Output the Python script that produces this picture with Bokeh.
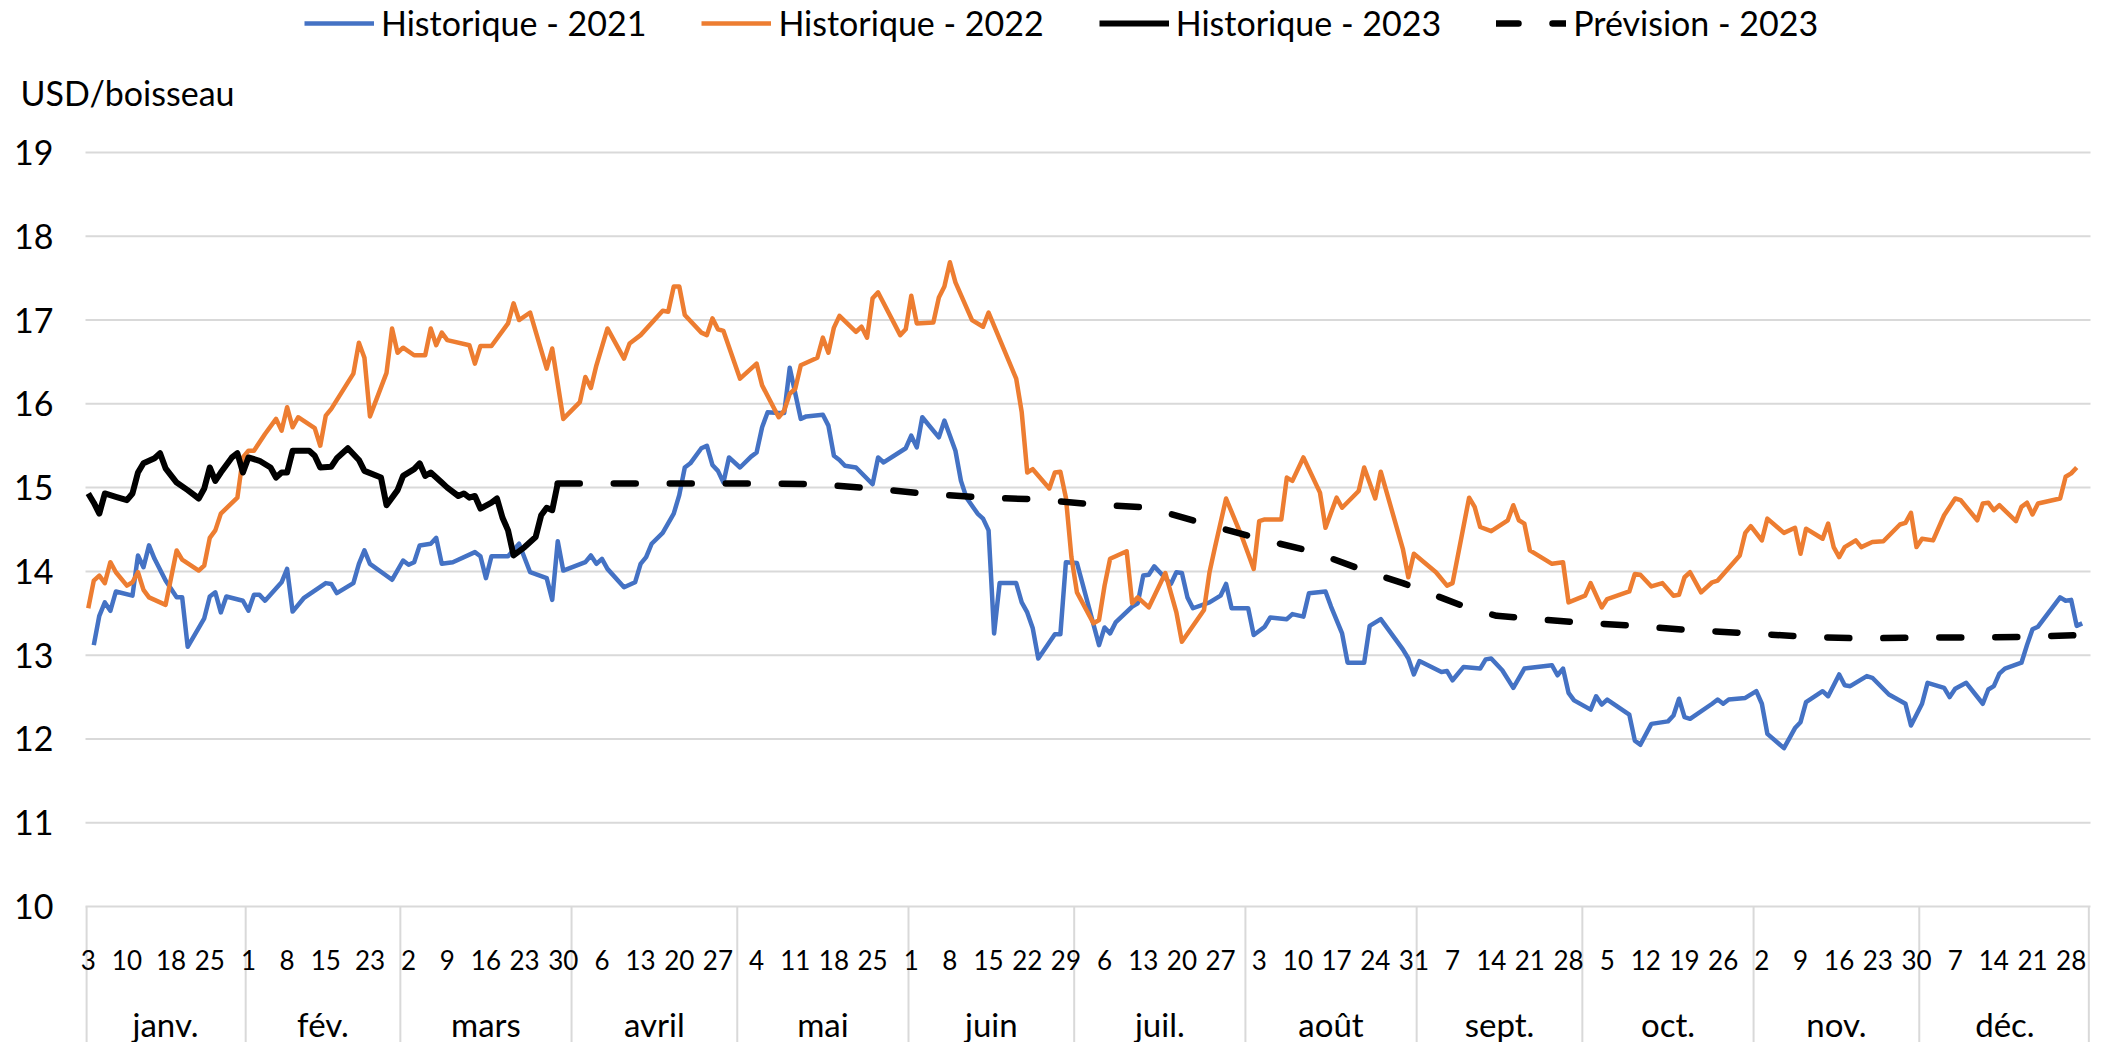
from bokeh.plotting import figure
from bokeh.models import Range1d, Legend, LegendItem
from bokeh.core.properties import value
from bokeh.embed import file_html
from bokeh.resources import INLINE

# ---------------- data ----------------
months = ["janv.", "fév.", "mars", "avril", "mai", "juin",
          "juil.", "août", "sept.", "oct.", "nov.", "déc."]
month_lengths = [31, 28, 31, 30, 31, 30, 31, 31, 30, 31, 30, 31]
week_days = [[3, 10, 18, 25], [1, 8, 15, 23], [2, 9, 16, 23, 30], [6, 13, 20, 27],
             [4, 11, 18, 25], [1, 8, 15, 22, 29], [6, 13, 20, 27], [3, 10, 17, 24, 31],
             [7, 14, 21, 28], [5, 12, 19, 26], [2, 9, 16, 23, 30], [7, 14, 21, 28]]
y_ticks = [10, 11, 12, 13, 14, 15, 16, 17, 18, 19]

# day of year / USD per bushel
day_2021 = [4, 5, 6, 7, 8, 11, 12, 13, 14, 15, 17, 19, 20, 21, 24, 25, 26, 27, 28, 31,
            32, 33, 34, 35, 38, 39, 40, 42, 46, 47, 48, 51, 52, 53, 54, 58, 60, 61, 62, 63,
            65, 66, 67, 69, 73, 74, 75, 76, 79, 81, 83, 86, 87, 88, 89, 93, 94, 95, 96, 97,
            100, 102, 103, 104, 105, 107, 109, 110, 111, 112, 114, 115, 116, 117, 118, 119,
            121, 123, 124, 125, 126, 128, 129, 130, 132, 133, 136, 137, 138, 139, 140, 142,
            145, 146, 147, 151, 152, 153, 154, 157, 158, 160, 161, 162, 164, 165, 166, 167,
            168, 171, 172, 173, 174, 175, 178, 179, 180, 182, 186, 187, 188, 189, 192, 193,
            194, 195, 196, 197, 199, 200, 201, 202, 203, 206, 208, 209, 210, 213, 214, 216,
            217, 220, 221, 223, 224, 227, 228, 230, 231, 234, 235, 237, 241, 242, 243, 244,
            248, 249, 250, 252, 255, 256, 257, 259, 261, 263, 268, 269, 270, 271, 272, 275,
            276, 277, 278, 282, 283, 284, 286, 289, 290, 291, 292, 293, 297, 298, 299, 300,
            303, 305, 306, 307, 310, 312, 313, 314, 317, 318, 320, 321, 322, 325, 326, 329,
            332, 333, 335, 336, 339, 340, 341, 343, 346, 347, 348, 349, 350, 353, 354, 355,
            356, 360, 361, 362, 363, 364]
price_2021 = [13.12, 13.47, 13.63, 13.53, 13.76, 13.71, 14.19, 14.05, 14.31, 14.15, 13.89, 13.69,
              13.69, 13.10, 13.44, 13.70, 13.75, 13.51, 13.70, 13.65, 13.53, 13.72, 13.72, 13.65,
              13.87, 14.03, 13.52, 13.68, 13.86, 13.85, 13.74, 13.86, 14.09, 14.25, 14.09, 13.90,
              14.13, 14.08, 14.11, 14.31, 14.33, 14.40, 14.09, 14.11, 14.23, 14.18, 13.92, 14.18,
              14.18, 14.33, 13.99, 13.92, 13.66, 14.36, 14.01, 14.11, 14.19, 14.09, 14.15, 14.03,
              13.81, 13.87, 14.09, 14.17, 14.33, 14.46, 14.69, 14.91, 15.24, 15.29, 15.47, 15.50,
              15.27, 15.20, 15.06, 15.36, 15.24, 15.37, 15.42, 15.72, 15.90, 15.89, 15.89, 16.43,
              15.82, 15.85, 15.87, 15.74, 15.38, 15.33, 15.26, 15.24, 15.04, 15.36, 15.30, 15.47,
              15.62, 15.48, 15.84, 15.60, 15.80, 15.44, 15.08, 14.88, 14.69, 14.63, 14.49, 13.26,
              13.86, 13.86, 13.63, 13.51, 13.32, 12.96, 13.25, 13.25, 14.11, 14.10, 13.12, 13.33,
              13.26, 13.39, 13.58, 13.62, 13.95, 13.96, 14.06, 13.99, 13.85, 13.99, 13.98, 13.69,
              13.56, 13.63, 13.71, 13.85, 13.56, 13.56, 13.24, 13.34, 13.45, 13.43, 13.49, 13.46,
              13.74, 13.76, 13.58, 13.26, 12.91, 12.91, 13.35, 13.43, 13.07, 12.96, 12.77, 12.93,
              12.80, 12.81, 12.70, 12.86, 12.84, 12.95, 12.96, 12.82, 12.61, 12.84, 12.88, 12.76,
              12.84, 12.55, 12.46, 12.35, 12.51, 12.41, 12.47, 12.29, 11.98, 11.93, 12.18, 12.21,
              12.28, 12.48, 12.26, 12.24, 12.42, 12.47, 12.42, 12.47, 12.49, 12.57, 12.42, 12.06,
              11.89, 12.13, 12.20, 12.44, 12.57, 12.51, 12.77, 12.64, 12.63, 12.75, 12.73, 12.53,
              12.42, 12.16, 12.42, 12.67, 12.61, 12.50, 12.60, 12.67, 12.42, 12.59, 12.63, 12.78,
              12.84, 12.91, 13.12, 13.31, 13.34, 13.69, 13.65, 13.66, 13.35, 13.38]

day_2022 = [3, 4, 5, 6, 7, 8, 10, 11, 12, 13, 14, 17, 19, 20, 23, 24, 25, 26, 27, 30,
            31, 32, 33, 35, 37, 38, 39, 40, 41, 44, 45, 46, 47, 51, 52, 53, 54, 57, 58, 59,
            60, 62, 64, 65, 66, 67, 68, 72, 73, 74, 76, 79, 80, 81, 83, 85, 86, 87, 89, 92,
            93, 94, 95, 97, 100, 101, 103, 107, 108, 109, 110, 111, 114, 115, 116, 117, 118,
            121, 124, 125, 128, 129, 130, 131, 132, 135, 136, 137, 138, 139, 142, 143, 144,
            145, 146, 150, 151, 152, 153, 156, 157, 158, 159, 160, 163, 165, 166, 171, 172,
            173, 174, 177, 178, 179, 180, 181, 182, 185, 186, 187, 188, 191, 192, 193, 195,
            198, 200, 201, 205, 206, 207, 209, 212, 213, 214, 215, 216, 219, 220, 221, 223,
            226, 227, 229, 230, 233, 234, 236, 237, 241, 242, 243, 247, 249, 250, 253, 254,
            255, 257, 260, 261, 262, 263, 264, 268, 270, 271, 274, 275, 277, 278, 282, 283,
            284, 286, 288, 290, 291, 292, 293, 295, 297, 298, 302, 303, 304, 306, 307, 310,
            312, 313, 314, 317, 318, 319, 320, 321, 323, 324, 326, 328, 331, 332, 333, 334,
            335, 337, 339, 341, 342, 345, 346, 347, 348, 349, 352, 353, 354, 355, 356, 360,
            361, 362, 363]
price_2022 = [13.56, 13.89, 13.95, 13.86, 14.11, 13.99, 13.83, 13.87, 13.99, 13.78, 13.69, 13.60,
              14.25, 14.14, 14.01, 14.07, 14.40, 14.49, 14.69, 14.88, 15.36, 15.44, 15.44, 15.64,
              15.82, 15.68, 15.96, 15.72, 15.84, 15.71, 15.50, 15.86, 15.94, 16.36, 16.73, 16.55,
              15.85, 16.37, 16.90, 16.61, 16.67, 16.58, 16.58, 16.90, 16.70, 16.85, 16.76, 16.70,
              16.48, 16.69, 16.69, 16.96, 17.20, 17.00, 17.09, 16.64, 16.42, 16.66, 15.82, 16.02,
              16.32, 16.19, 16.46, 16.90, 16.54, 16.72, 16.82, 17.11, 17.10, 17.40, 17.40, 17.06,
              16.85, 16.82, 17.02, 16.89, 16.87, 16.30, 16.48, 16.22, 15.84, 15.92, 16.12, 16.18,
              16.46, 16.55, 16.79, 16.61, 16.91, 17.05, 16.86, 16.92, 16.79, 17.26, 17.33, 16.82,
              16.89, 17.29, 16.96, 16.97, 17.27, 17.40, 17.69, 17.45, 17.00, 16.92, 17.09, 16.30,
              15.90, 15.18, 15.22, 14.99, 15.18, 15.19, 14.88, 14.17, 13.75, 13.38, 13.42, 13.83,
              14.15, 14.24, 13.62, 13.69, 13.57, 13.98, 13.51, 13.16, 13.54, 13.99, 14.29, 14.87,
              14.39, 14.21, 14.03, 14.60, 14.62, 14.62, 15.12, 15.08, 15.36, 14.94, 14.52, 14.88,
              14.76, 14.96, 15.24, 14.87, 15.19, 14.27, 13.93, 14.21, 13.99, 13.83, 13.86, 14.88,
              14.77, 14.53, 14.48, 14.61, 14.79, 14.61, 14.57, 14.25, 14.09, 14.11, 13.63, 13.71,
              13.86, 13.57, 13.67, 13.76, 13.97, 13.96, 13.82, 13.86, 13.71, 13.72, 13.93, 13.99,
              13.75, 13.87, 13.89, 14.19, 14.46, 14.54, 14.37, 14.63, 14.46, 14.52, 14.21, 14.51,
              14.39, 14.57, 14.29, 14.17, 14.29, 14.37, 14.29, 14.35, 14.36, 14.56, 14.58, 14.70,
              14.29, 14.39, 14.37, 14.67, 14.87, 14.85, 14.61, 14.81, 14.82, 14.73, 14.79, 14.60,
              14.77, 14.82, 14.68, 14.81, 14.87, 15.13, 15.17, 15.24]

day_2023 = [3, 4, 5, 6, 8, 10, 11, 12, 13, 15, 16, 17, 19, 21, 23, 24, 25, 26, 27, 29,
            30, 31, 32, 34, 36, 37, 38, 39, 40, 43, 44, 45, 47, 48, 50, 52, 53, 56, 57, 59,
            60, 62, 63, 64, 65, 67, 68, 70, 71, 72, 73, 74, 76, 77, 78, 79, 80, 82, 84, 85,
            86, 87, 88]
price_2023 = [14.93, 14.82, 14.69, 14.93, 14.89, 14.85, 14.93, 15.18, 15.29, 15.35, 15.41, 15.23,
              15.06, 14.97, 14.87, 14.99, 15.24, 15.08, 15.18, 15.36, 15.41, 15.18, 15.36, 15.32,
              15.24, 15.12, 15.18, 15.18, 15.44, 15.44, 15.38, 15.24, 15.25, 15.35, 15.47, 15.33,
              15.20, 15.12, 14.79, 14.97, 15.14, 15.22, 15.29, 15.14, 15.18, 15.06, 15.00, 14.90,
              14.93, 14.88, 14.90, 14.75, 14.82, 14.87, 14.64, 14.49, 14.19, 14.29, 14.41, 14.67,
              14.76, 14.73, 15.05]

day_forecast = [88, 114, 125, 135, 145, 154, 165, 175, 185, 195, 205, 215, 225, 234, 241,
                253, 258, 273, 283, 293, 304, 314, 324, 334, 344, 354, 364]
price_forecast = [15.05, 15.05, 15.05, 15.04, 14.99, 14.93, 14.88, 14.86, 14.80, 14.76, 14.57,
                  14.39, 14.23, 14.01, 13.86, 13.56, 13.47, 13.39, 13.35, 13.30, 13.26, 13.22,
                  13.20, 13.21, 13.21, 13.22, 13.24]

series_labels = ["Historique - 2021", "Historique - 2022", "Historique - 2023", "Prévision - 2023"]
unit_label = "USD/boisseau"

# ---------------- layout ----------------
FIG_W, FIG_H = 2106, 1042
PLOT_L, PLOT_R = 85, 2090          # pixel edges of the plotting area
Y19_PX, Y10_PX = 152, 906          # pixel rows of the 19 and 10 gridlines
X_START, X_END = 2.5, 365.5
SPD = (PLOT_R - PLOT_L) / (X_END - X_START)
PPU = (Y10_PX - Y19_PX) / 9.0
FONT = "Lato"
GRID = "#D9D9D9"

p = figure(width=FIG_W, height=FIG_H, output_backend="svg", toolbar_location=None,
           title=None,
           x_range=Range1d(X_START - PLOT_L / SPD, X_END + (FIG_W - PLOT_R) / SPD),
           y_range=Range1d(10 - (FIG_H - Y10_PX) / PPU, 19 + Y19_PX / PPU),
           x_axis_location=None, y_axis_location=None,
           min_border_left=0, min_border_right=0, min_border_top=0, min_border_bottom=0)
p.outline_line_color = None
p.background_fill_color = "white"
p.border_fill_color = "white"
p.grid.visible = False
Y_BOTTOM = p.y_range.start

# horizontal gridlines and value labels
p.segment(x0=[X_START] * len(y_ticks), y0=y_ticks, x1=[X_END] * len(y_ticks), y1=y_ticks,
          line_color=GRID, line_width=2)
p.text(x=[X_START - 32 / SPD] * len(y_ticks), y=y_ticks, text=[str(t) for t in y_ticks],
       text_font=value(FONT), text_font_size="34px", text_align="right",
       text_baseline="middle", text_color="black")
p.text(x=[X_START - 65 / SPD], y=[19 + 60 / PPU], text=[unit_label],
       text_font=value(FONT), text_font_size="34px", text_align="left",
       text_baseline="middle", text_color="black")

# month separators and two-level category labels
starts = [1]
for n in month_lengths[:-1]:
    starts.append(starts[-1] + n)
bounds = [s - 0.5 for s in starts[1:]]
sep_x = [X_START + 0.2] + bounds + [X_END - 0.3]
p.segment(x0=sep_x, y0=[10] * len(sep_x), x1=sep_x, y1=[Y_BOTTOM] * len(sep_x),
          line_color=GRID, line_width=2)

tick_x, tick_t = [], []
for s, days in zip(starts, week_days):
    for d in days:
        tick_x.append(s + d - 1)
        tick_t.append(str(d))
p.text(x=tick_x, y=[10 - 53 / PPU] * len(tick_x), text=tick_t,
       text_font=value(FONT), text_font_size="26px", text_align="center",
       text_baseline="middle", text_color="black")

lefts = [max(s - 0.5, X_START) for s in starts]
rights = bounds + [X_END]
month_x = [(a + b) / 2 for a, b in zip(lefts, rights)]
p.text(x=month_x, y=[10 - 117 / PPU] * len(month_x), text=months,
       text_font=value(FONT), text_font_size="33px", text_align="center",
       text_baseline="middle", text_color="black")

# series
r21 = p.line(day_2021, price_2021, line_color="#4472C4", line_width=4.5, line_join="round")
r22 = p.line(day_2022, price_2022, line_color="#ED7D31", line_width=4.5, line_join="round")
r23 = p.line(day_2023, price_2023, line_color="black", line_width=6, line_join="round")
rfc = p.line(day_forecast, price_forecast, line_color="black", line_width=6.5,
             line_dash="22 34", line_cap="round", line_join="round")

legend = Legend(items=[LegendItem(label=series_labels[0], renderers=[r21]),
                       LegendItem(label=series_labels[1], renderers=[r22]),
                       LegendItem(label=series_labels[2], renderers=[r23]),
                       LegendItem(label=series_labels[3], renderers=[rfc])],
                orientation="horizontal", location=(304, FIG_H - 43),
                glyph_width=70, glyph_height=20, label_standoff=7, spacing=55,
                padding=0, margin=0, border_line_color=None, background_fill_alpha=0,
                label_text_font=FONT, label_text_font_size="34px", label_text_color="black")
p.add_layout(legend)

open("out.html", "w").write(file_html(p, INLINE))
